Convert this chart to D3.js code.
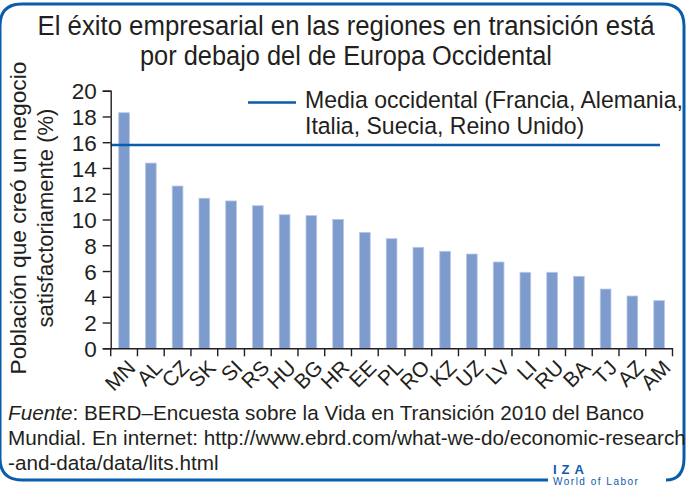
<!DOCTYPE html>
<html><head><meta charset="utf-8">
<script src="https://cdn.jsdelivr.net/npm/d3@7"></script>
<style>
html,body{margin:0;padding:0;background:#fff;}
svg{display:block;}
</style></head><body>
<svg id="chart" width="686" height="486"></svg>
<script>
const categories = ["MN","AL","CZ","SK","SI","RS","HU","BG","HR","EE","PL","RO","KZ","UZ","LV","LI","RU","BA","TJ","AZ","AM"];
const values = [18.29,14.38,12.6,11.65,11.44,11.07,10.37,10.3,10.01,9.0,8.51,7.84,7.53,7.32,6.7,5.9,5.9,5.59,4.6,4.06,3.7];
const westernMean = 15.78;
const yTicks = [0,2,4,6,8,10,12,14,16,18,20];
const titleLines = ["El éxito empresarial en las regiones en transición está","por debajo del de Europa Occidental"];
const yLabelLines = ["Población que creó un negocio","satisfactoriamente (%)"];
const legendLines = ["Media occidental (Francia, Alemania,","Italia, Suecia, Reino Unido)"];
const sourceLine2 = "Mundial. En internet: http://www.ebrd.com/what-we-do/economic-research";
const sourceLine3 = "-and-data/data/lits.html";

const svg = d3.select("#chart");
const blue = "#0b5cab";
const textColor = "#231f20";
const mainFont = "'Liberation Sans', Arial, sans-serif";

function fit(sel, w){
  const n = sel.node();
  let fs = parseFloat(sel.attr("font-size"));
  const L = n.getComputedTextLength();
  if (L > 0) sel.attr("font-size", (fs * w / L).toFixed(2));
  return sel;
}

// frame
svg.append("path")
  .attr("d", "M548,480 L22,480 Q0,480 0,458 L0,26 Q0,4 22,4 L662,4 Q684,4 684,26 L684,458 Q684,480 666,480")
  .attr("fill","none").attr("stroke",blue).attr("stroke-width",3);

// title (condensed look)
const titleWidths = [617, 412];
titleLines.forEach((t,i)=>{
  svg.append("text").attr("x",346).attr("y",35+i*30)
    .attr("text-anchor","middle").attr("font-family",mainFont)
    .attr("font-size",27).attr("fill",textColor)
    .attr("textLength",titleWidths[i]).attr("lengthAdjust","spacingAndGlyphs")
    .text(t);
});

const margin = {left:110.7, right:672.5, top:90.7, bottom:348.3};
const x = d3.scaleBand().domain(categories).range([margin.left, margin.right]).paddingInner(0).paddingOuter(0);
const y = d3.scaleLinear().domain([0,20]).range([margin.bottom, margin.top]);

// bars
const bw = x.bandwidth()*0.4;
svg.append("g").selectAll("rect").data(values).join("rect")
  .attr("x",(d,i)=>x(categories[i]) + x.bandwidth()/2 - bw/2)
  .attr("y",d=>y(d))
  .attr("width",bw)
  .attr("height",d=>y(0)-y(d))
  .attr("fill","#7e9bcd")
  .attr("stroke","#b7c8e6").attr("stroke-width",0.8);

// mean line
svg.append("line")
  .attr("x1",margin.left).attr("x2",660)
  .attr("y1",y(westernMean)).attr("y2",y(westernMean))
  .attr("stroke",blue).attr("stroke-width",2.6);

// y axis
const yAxis = svg.append("g").attr("transform",`translate(${margin.left},0)`)
  .call(d3.axisLeft(y).tickValues(yTicks).tickSize(8).tickPadding(6));
yAxis.select(".domain").attr("stroke","#231f20").attr("stroke-width",1.4);
yAxis.selectAll(".tick line").attr("stroke","#231f20").attr("stroke-width",1.4);
yAxis.selectAll("text").attr("font-family",mainFont).attr("font-size",22.5).attr("fill",textColor).attr("dy","0.36em");

// x axis
const xAxis = svg.append("g").attr("transform",`translate(0,${margin.bottom})`)
  .call(d3.axisBottom(x).tickSize(0).tickSizeOuter(0));
xAxis.select(".domain").attr("stroke","#231f20").attr("stroke-width",1.4);
xAxis.selectAll(".tick line").remove();
const bounds = categories.map(c=>x(c)).concat([x(categories[categories.length-1])+x.bandwidth()]);
xAxis.selectAll("line.bt").data(bounds).join("line").attr("class","bt")
  .attr("x1",d=>d).attr("x2",d=>d).attr("y1",0).attr("y2",8)
  .attr("stroke","#231f20").attr("stroke-width",1.4);
xAxis.selectAll(".tick text")
  .attr("font-family",mainFont).attr("font-size",21).attr("fill",textColor)
  .attr("text-anchor","end").attr("dy","0")
  .attr("transform","translate(2,10) rotate(-45)")
  .attr("y",0).attr("x",0).attr("dominant-baseline","hanging");

// y label
yLabelLines.forEach((t,i)=>{
  const s = svg.append("text")
    .attr("transform",`translate(${26+i*27},218) rotate(-90)`)
    .attr("text-anchor","middle").attr("font-family",mainFont)
    .attr("font-size",21).attr("fill",textColor).text(t);
  fit(s, i===0?313:219);
});

// legend
svg.append("line").attr("x1",248).attr("x2",296).attr("y1",102.5).attr("y2",102.5)
  .attr("stroke",blue).attr("stroke-width",2.6);
legendLines.forEach((t,i)=>{
  const s = svg.append("text").attr("x",305).attr("y",108+i*26)
    .attr("font-family",mainFont).attr("font-size",20).attr("fill",textColor).text(t);
  if(i===0) fit(s,378);
});
{
  const l = svg.selectAll("text").filter(function(){return this.textContent===legendLines[0];});
  svg.selectAll("text").filter(function(){return this.textContent===legendLines[1];}).attr("font-size",l.attr("font-size"));
}

// source
const src1 = svg.append("text").attr("x",8).attr("y",420)
  .attr("font-family",mainFont).attr("font-size",19).attr("fill",textColor);
src1.append("tspan").attr("font-style","italic").text("Fuente");
src1.append("tspan").text(": BERD–Encuesta sobre la Vida en Transición 2010 del Banco");
const s2 = svg.append("text").attr("x",8).attr("y",445)
  .attr("font-family",mainFont).attr("font-size",19).attr("fill",textColor).text(sourceLine2);
fit(s2,678);
const fsSrc = s2.attr("font-size");
src1.attr("font-size",fsSrc);
svg.append("text").attr("x",8).attr("y",470)
  .attr("font-family",mainFont).attr("font-size",fsSrc).attr("fill",textColor).text(sourceLine3);

// IZA logo
svg.append("text").attr("x",553).attr("y",474)
  .attr("font-family",mainFont).attr("font-size",13).attr("font-weight","bold")
  .attr("letter-spacing","5").attr("fill",blue).text("IZA");
svg.append("text").attr("x",553).attr("y",485)
  .attr("font-family",mainFont).attr("font-size",10).attr("letter-spacing","1.5")
  .attr("fill",blue).text("World of Labor");
</script>
</body></html>
